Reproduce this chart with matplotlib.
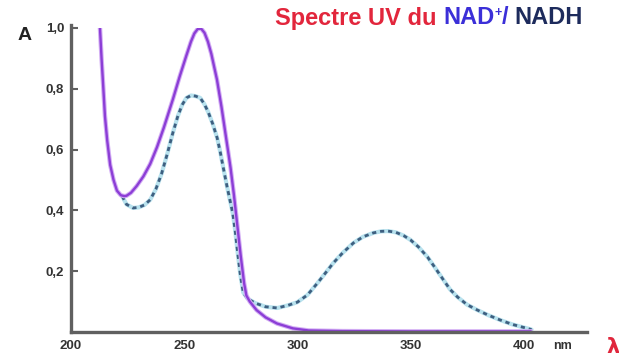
import numpy as np
import matplotlib.pyplot as plt

# NAD+ spectrum (solid purple curve)
nad_x = [212.8, 213.5, 214.3, 215.0, 216.0, 217.3, 218.8, 220.3, 222.0, 223.5,
         224.5, 226.5, 229.0, 232.0, 235.0, 238.0, 241.0, 245.0, 248.0, 251.0,
         253.0, 254.5, 256.0, 257.5, 259.0, 260.5, 262.0, 264.5, 266.5, 268.5,
         270.5, 272.0, 273.5, 275.0, 276.5, 277.5, 279.0, 282.0, 286.0, 291.0,
         298.0, 305.0, 320.0, 350.0, 380.0, 403.0]
nad_y = [1.00, 0.90, 0.80, 0.71, 0.63, 0.55, 0.50, 0.465, 0.45, 0.447,
         0.448, 0.458, 0.48, 0.512, 0.553, 0.608, 0.672, 0.765, 0.84, 0.91,
         0.955, 0.982, 0.997, 0.998, 0.984, 0.955, 0.915, 0.83, 0.74, 0.64,
         0.54, 0.45, 0.35, 0.25, 0.16, 0.12, 0.10, 0.072, 0.048, 0.028,
         0.012, 0.005, 0.003, 0.002, 0.002, 0.002]

# NADH spectrum (dashed blue curve)
nadh_x = [222.6, 224.5, 227.4, 230.0, 232.5, 235.0, 237.5, 240.0, 242.5, 245.0,
          247.2, 249.1, 251.0, 253.0, 255.0, 257.1, 258.9, 260.6, 262.6, 264.6,
          266.0, 267.3, 268.9, 270.4, 271.5, 272.6, 273.5, 274.8, 276.1, 278.0,
          281.4, 286.0, 291.2, 296.0, 300.0, 304.5, 308.8, 312.0, 315.9, 320.0,
          324.8, 329.0, 333.6, 337.0, 340.0, 343.5, 347.0, 350.0, 353.5, 357.5,
          361.0, 364.6, 367.5, 370.8, 375.0, 379.6, 384.5, 389.8, 395.0, 400.0,
          403.5]
nadh_y = [0.447, 0.42, 0.408, 0.41, 0.418, 0.435, 0.47, 0.52, 0.585, 0.655,
          0.71, 0.747, 0.77, 0.778, 0.776, 0.77, 0.75, 0.724, 0.685, 0.638,
          0.59, 0.54, 0.48, 0.428, 0.39, 0.33, 0.27, 0.19, 0.13, 0.11,
          0.095, 0.083, 0.079, 0.088, 0.098, 0.122, 0.16, 0.19, 0.227, 0.26,
          0.293, 0.313, 0.326, 0.331, 0.332, 0.328, 0.317, 0.303, 0.28, 0.247,
          0.21, 0.171, 0.14, 0.115, 0.09, 0.072, 0.055, 0.039, 0.025, 0.015,
          0.008]

x_ticks = [200, 250, 300, 350, 400]
y_ticks = [0.2, 0.4, 0.6, 0.8, 1.0]
y_labels = ['0,2', '0,4', '0,6', '0,8', '1,0']

plt.rcParams['font.family'] = ['Liberation Sans', 'DejaVu Sans']

fig = plt.figure(figsize=(6.19, 3.58), dpi=100)
ax = fig.add_axes([71/619, 1-332/358, 516/619, 304/358])

# curves
ax.plot(nadh_x, nadh_y, color='#b8e2ee', lw=3, solid_capstyle='round')
ax.plot(nadh_x, nadh_y, color='#3e5f80', lw=2, ls=(0, (1.5, 1.4)))
ax.plot(nad_x, nad_y, color='#d3aef4', lw=3.2)
ax.plot(nad_x, nad_y, color='#8c3ed6', lw=1.7)

ax.set_xlim(200, 428)
ax.set_ylim(0, 1.0)
for s in ['top', 'right']:
    ax.spines[s].set_visible(False)
for s in ['left', 'bottom']:
    ax.spines[s].set_color('#606060')
    ax.spines[s].set_linewidth(2.4)
ax.spines['left'].set_bounds(0, 1.01)

ax.set_xticks(x_ticks)
ax.set_xticklabels([str(v) for v in x_ticks])
ax.set_yticks(y_ticks)
ax.set_yticklabels(y_labels)
ax.tick_params(axis='y', direction='in', length=5, width=1.5, color='#606060',
               pad=5, labelsize=9.5, labelcolor='#333333')
ax.tick_params(axis='x', length=0, pad=6, labelsize=9.5, labelcolor='#333333')
for lab in ax.get_xticklabels() + ax.get_yticklabels():
    lab.set_fontweight('bold')

fig.text(25/619, 1-35/358, 'A', fontsize=14, fontweight='bold', color='#222222',
         ha='center', va='center')
fig.text(563/619, 1-346/358, 'nm', fontsize=9, fontweight='bold', color='#333333',
         ha='center', va='center')
fig.text(606/619, 1-347/358, 'λ', fontsize=15, fontweight='bold', color='#e0263c',
         ha='left', va='center', family=['DejaVu Sans'])

# multi-coloured title
pieces = [('Spectre UV du ', '#e2263c', 17, 0),
          ('NAD', '#3b2fd8', 17, 0),
          ('+', '#3b2fd8', 9, 5),
          ('/ ', '#3b2fd8', 17, 0),
          ('NADH', '#1d2b5c', 17, 0)]
fig.canvas.draw()
r = fig.canvas.get_renderer()
xpos = 275
for txt, col, fs, dy in pieces:
    t = fig.text(xpos/619, (358-18+dy)/358, txt, color=col, fontsize=fs,
                 fontweight='bold', ha='left', va='center')
    xpos += t.get_window_extent(renderer=r).width

fig.savefig('out.png', dpi=100)
